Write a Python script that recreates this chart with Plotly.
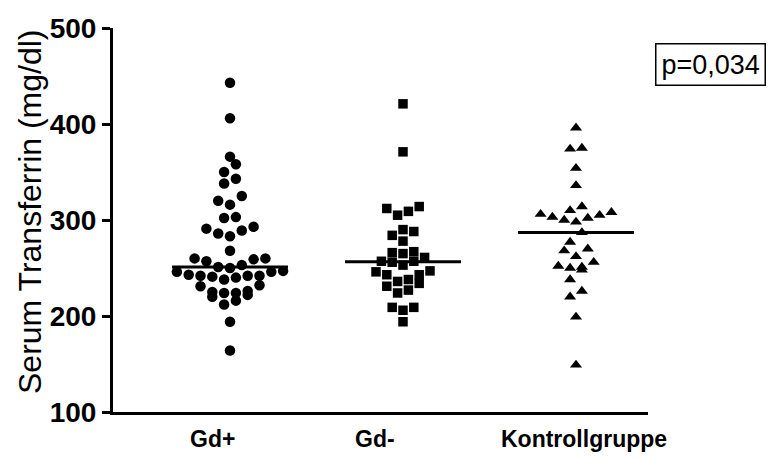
import numpy as np
import plotly.graph_objects as go

# ---------------- data ----------------
categories = ["Gd+", "Gd-", "Kontrollgruppe"]
gd_plus = [443, 406, 366, 358, 350, 343, 338, 325, 320, 316, 303, 302, 293, 291, 289,
           286, 283, 268, 260, 260, 259, 257, 253, 251, 250, 247, 246, 246, 243, 242,
           242, 242, 241, 240, 238, 232, 231, 226, 225, 224, 224, 222, 220, 216, 212,
           194, 164]
gd_minus = [421, 371, 314, 312, 309, 305, 290, 288, 284, 278, 267, 266, 265, 261, 257,
            257, 256, 253, 247, 246, 243, 243, 238, 236, 234, 231, 227, 224, 209, 209,
            206, 194]
kontroll = [396, 375, 374, 354, 336, 314, 310, 308, 306, 305, 303, 302, 300, 298, 287,
            277, 270, 268, 262, 256, 252, 251, 250, 248, 238, 226, 220, 199, 149]
y_ticks = [100, 200, 300, 400, 500]
p_text = "p=0,034"
y_title = "Serum Transferrin (mg/dl)"

# ---------------- layout constants (pixels) ----------------
W, H = 773, 458
L, R, T, B = 113, 125, 28, 46
PW = W - L - R
PH = H - T - B
centers = [117, 290, 463]          # x positions of columns (px from y axis)
label_center = [99, 262, 471]      # centre of each category label (px from y axis)
half_med = 58
symbols = ["circle", "square", "triangle-up"]
sizes = [10.5, 9.5, 10.5]
YMIN, YMAX = 100, 500
ROW_H = 11.5                       # value window that shares one row


def rows_layout(vals, spacing):
    """Prism-like column scatter: close values share a row, spread sideways."""
    v = np.asarray(vals, float)
    order = np.argsort(v)
    xs = np.zeros(len(v))
    i = 0
    while i < len(order):
        start = v[order[i]]
        j = i
        while j < len(order) and v[order[j]] < start + ROW_H:
            j += 1
        idx = order[i:j]
        n = len(idx)
        if n % 2 == 1:
            slots = [0]
            for k in range(1, n // 2 + 1):
                slots += [-k, k]
        else:
            slots = []
            for k in range(n // 2):
                slots += [-(k + 0.5), k + 0.5]
        for s, ii in zip(slots, idx):
            xs[ii] = s * spacing
        i = j
    return xs


fig = go.Figure()
groups = [gd_plus, gd_minus, kontroll]
for k, vals in enumerate(groups):
    offs = rows_layout(vals, sizes[k] + 1.3)
    fig.add_trace(go.Scatter(
        x=centers[k] + offs, y=vals, mode="markers",
        marker=dict(symbol=symbols[k], size=sizes[k], color="black", line=dict(width=0)),
        showlegend=False, hoverinfo="y"))
    med = float(np.median(vals))
    fig.add_trace(go.Scatter(
        x=[centers[k] - half_med, centers[k] + half_med], y=[med, med], mode="lines",
        line=dict(color="black", width=3), showlegend=False, hoverinfo="skip"))

font_family = "Liberation Sans, Arial, sans-serif"
annotations = [
    dict(text=y_title, textangle=-90, xref="paper", yref="paper",
         x=(30 - L) / PW, y=1 - (212 - T) / PH, xanchor="center", yanchor="middle",
         showarrow=False, font=dict(size=32, family=font_family)),
    dict(text=p_text, xref="paper", yref="paper",
         x=(710 - L) / PW, y=1 - (65 - T) / PH, xanchor="center", yanchor="middle",
         showarrow=False, font=dict(size=27, family=font_family),
         bordercolor="black", borderwidth=1.5, borderpad=5, bgcolor="white"),
]
for xc, lab in zip(label_center, categories):
    annotations.append(dict(
        text=lab, xref="x", yref="paper", x=xc, y=-(439 - (H - B)) / PH,
        xanchor="center", yanchor="middle", showarrow=False,
        font=dict(size=23, family=font_family, weight="bold")))

fig.update_layout(
    width=W, height=H, margin=dict(l=L, r=R, t=T, b=B, autoexpand=False),
    plot_bgcolor="white", paper_bgcolor="white",
    font=dict(family=font_family, color="black"),
    xaxis=dict(range=[0, PW], showgrid=False, zeroline=False, showline=True,
               linecolor="black", linewidth=3, showticklabels=False, ticks="",
               automargin=False),
    yaxis=dict(range=[YMIN, YMAX], showgrid=False, zeroline=False, showline=True,
               linecolor="black", linewidth=3, tickvals=y_ticks,
               ticks="outside", ticklen=8, tickwidth=3, tickcolor="black",
               tickfont=dict(size=28, family=font_family, weight="bold"),
               automargin=False),
    annotations=annotations,
)

fig.write_html(
    "out.html",
    config={"displayModeBar": False},
    post_script="document.body.style.margin='0';document.body.style.overflow='hidden';",
)
